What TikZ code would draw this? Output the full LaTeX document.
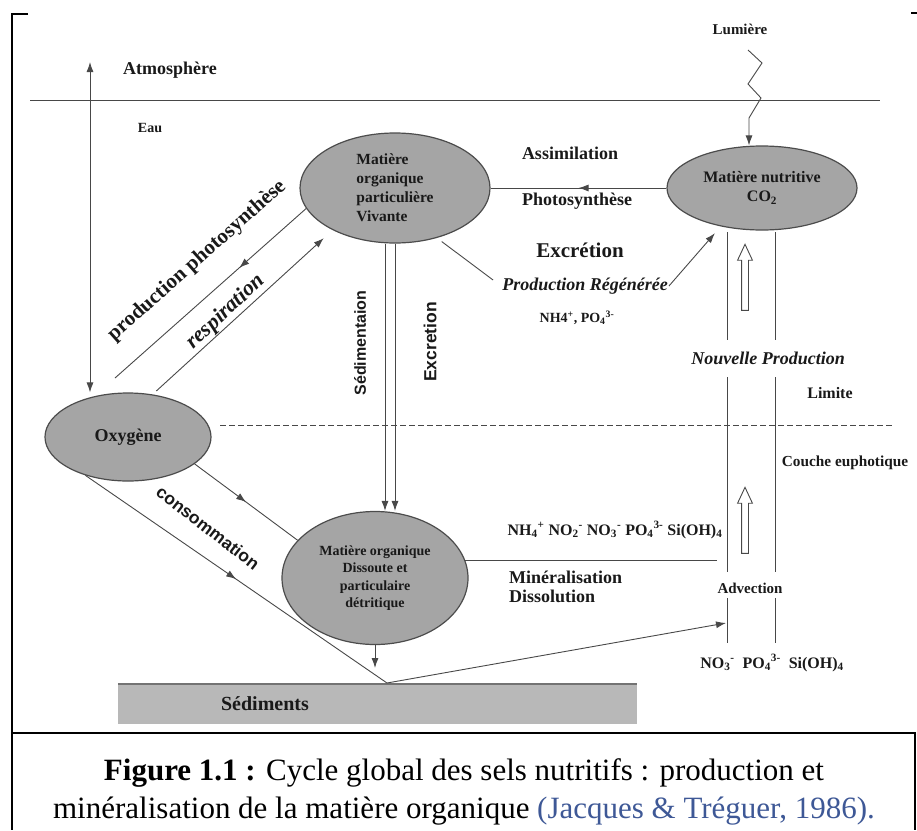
\documentclass[tikz,border=0pt]{standalone}
\usepackage{fontspec}
\setmainfont{Liberation Serif}
\setsansfont{Liberation Sans}
\usepackage{xcolor}
\usetikzlibrary{
    positioning,
    arrows.meta,
    shapes.geometric,
    shapes.arrows,
    decorations.markings,
}
\definecolor{citeblue}{RGB}{62,88,150}
\definecolor{poolgray}{RGB}{165,165,165}
\definecolor{linegray}{RGB}{72,72,72}
\newcommand{\sz}[2]{\fontsize{#1}{#2}\selectfont}
\tikzset{
    % Pool styles
    pool/.style={ellipse, draw=black!70, line width=1.2pt, fill=poolgray,
                 inner sep=0pt, align=center, text=black!90},
    sed bar/.style={rectangle, fill=black!28, draw=none, inner sep=0pt},
    % Text styles
    lbl/.style={inner sep=1pt, text=black!90, font=\bfseries\sz{16}{19}},
    ilbl/.style={lbl, font=\bfseries\itshape\sz{18}{20}},
    slbl/.style={lbl, font=\sffamily\bfseries\sz{16}{19}},
    % Line styles
    frame/.style={line width=2pt, black},
    flow/.style={color=linegray, line width=0.9pt},
    arrow/.style={flow, -{Latex[length=10pt, width=7pt]}},
    both arrow/.style={flow, {Latex[length=10pt, width=7pt]}-{Latex[length=10pt, width=7pt]}},
    mid arrow/.style={flow, postaction={decorate},
                      decoration={markings, mark=at position #1 with {\arrow{Latex[length=10pt, width=7pt]}}}},
    mid arrow/.default=0.5,
    hollow/.style={single arrow, draw=linegray, line width=0.9pt, fill=white, rotate=90,
                   inner xsep=0pt, inner ysep=3pt, single arrow head extend=4pt,
                   single arrow tip angle=50, minimum height=66pt, minimum width=14pt},
}

\begin{document}
\begin{tikzpicture}[x=1pt, y=-1pt]
    \useasboundingbox (0,0) rectangle (917,830);

    % Frame
    \draw[frame] (28,14) -- (12,14) -- (12,830);
    \draw[frame] (911,13) -- (917,13);
    \draw[frame] (12,733) -- (915,733) -- (915,830);

    % Surface and limit
    \draw[flow] (30,100) -- (880,100);
    \draw[flow, dash pattern=on 6pt off 3pt] (220,425) -- (893,425);

    % Layer labels
    \node[lbl, font=\bfseries\sz{18}{20}] (atm) at (170,70) {Atmosphère};
    \node[lbl, font=\bfseries\sz{14}{16}] (eau) at (150,128) {Eau};
    \node[lbl, font=\bfseries\sz{15}{17}] (lum) at (740,29) {Lumière};
    \node[lbl] (limite) at (830,393) {Limite};
    \node[lbl, font=\bfseries\sz{15.3}{18}] (couche) at (845,463) {Couche euphotique};

    % Pools
    \node[pool, minimum width=190pt, minimum height=110pt, align=left,
          font=\bfseries\sz{15.5}{19}] (mopv) at (395,188)
          {Matière\\organique\\particulière\\Vivante};
    \node[pool, minimum width=190pt, minimum height=84pt,
          font=\bfseries\sz{16}{19}] (co2) at (762,188)
          {Matière nutritive\\CO\textsubscript{2}};
    \node[pool, minimum width=166pt, minimum height=88pt,
          font=\bfseries\sz{18}{20}] (oxy) at (128,437) {Oxygène};
    \node[pool, minimum width=186pt, minimum height=133pt,
          font=\bfseries\sz{14}{17.5}] (modp) at (375,578)
          {Matière organique\\Dissoute et\\particulaire\\détritique};
    \node[sed bar, minimum width=519pt, minimum height=40pt] (sed) at (377.5,704) {};
    \draw[line width=1.5pt, black!55] (sed.north west) -- (sed.north east);
    \node[lbl, font=\bfseries\sz{20}{22}] (sedtxt) at (265,704) {Sédiments};

    % Assimilation
    \draw[mid arrow] (co2.west) -- (mopv.east);
    \node[lbl, font=\bfseries\sz{18}{20}] (assim) at (570,153) {Assimilation};
    \node[lbl, font=\bfseries\sz{18}{20}] (photo) at (577,201) {Photosynthèse};

    % Excretion and regenerated production
    \node[lbl, font=\bfseries\sz{21}{23}] (excr) at (580,250) {Excrétion};
    \node[ilbl] (preg) at (585,286) {Production Régénérée};
    \node[lbl, font=\bfseries\sz{14}{16}] (nh4) at (577,318)
          {NH4\textsuperscript{+}, PO\textsubscript{4}\textsuperscript{3-}};
    \draw[flow, shorten <=6pt, shorten >=10pt] (mopv.-50) -- (preg.west);
    \draw[arrow, shorten >=9pt] (preg.east) -- (co2.223);

    % Light
    \coordinate (zz0) at (748,50);
    \coordinate (zz) at (749,128);
    \draw[arrow] (zz0) -- (762,63) -- (748,84) -- (761,98) -- (749,118) -- (zz) -- (zz |- co2.north);

    % Atmosphere exchange
    \coordinate (atmtop) at (90,62);
    \draw[both arrow] (atmtop) -- (atmtop |- oxy.north);

    % Photosynthesis and respiration
    \coordinate (ppend) at (115,378);
    \draw[mid arrow=0.35] (mopv.193) -- (ppend);
    \draw[arrow, shorten <=5pt, shorten >=12pt] (oxy.60) -- (mopv.214);
    \node[lbl, rotate=41.7, font=\bfseries\sz{21}{23}] (pphoto) at (197,261) {production photosynthèse};
    \node[ilbl, rotate=43, font=\bfseries\itshape\sz{22}{24}] (resp) at (226,312) {respiration};

    % Sedimentation
    \draw[arrow] ([xshift=-10pt]mopv.south) -- ([xshift=-10pt]mopv.south |- modp.north);
    \draw[arrow] (mopv.south) -- (mopv.south |- modp.north);
    \node[slbl, rotate=90] (sedim) at (360,343) {Sédimentaion};
    \node[slbl, rotate=90, font=\sffamily\bfseries\sz{17.5}{19}] (excret) at (430,342) {Excretion};

    % Consumption
    \coordinate (sedpt) at (387,683);
    \coordinate (modpdrop) at (375,668);
    \coordinate (advin) at (726,623);
    \draw[mid arrow] (oxy.-22) -- (modp.154);
    \draw[mid arrow] (oxy.222) -- (sedpt);
    \draw[arrow] (sedpt) -- (advin);
    \draw[arrow] (modp.south) -- (modpdrop);
    \node[slbl, rotate=-37.6, font=\sffamily\bfseries\sz{17.5}{19}] (conso) at (208,528) {consommation};

    % Mineralisation
    \coordinate (minend) at (717,560);
    \draw[flow] (modp.11) -- (modp.11 -| minend);
    \node[lbl] (ions) at (615,530)
          {NH\textsubscript{4}\textsuperscript{+} NO\textsubscript{2}\textsuperscript{-} NO\textsubscript{3}\textsuperscript{-} PO\textsubscript{4}\textsuperscript{3-} Si(OH)\textsubscript{4}};
    \node[lbl, font=\bfseries\sz{18}{20}, anchor=west] (mineral) at (508,577) {Minéralisation};
    \node[lbl, font=\bfseries\sz{18}{20}, below=4pt of mineral.south west, anchor=north west] (dissol) {Dissolution};

    % New production channel
    \foreach \cx in {727,775} {
        \draw[flow] (\cx,232) -- (\cx,340) (\cx,377) -- (\cx,572) (\cx,598) -- (\cx,643);
    }
    \node[hollow] (up1) at (745,281) {};
    \node[hollow] (up2) at (745,524) {};
    \node[ilbl] (npro) at (768,358) {Nouvelle Production};
    \node[lbl, font=\bfseries\sz{15}{17}] (adv) at (750,588) {Advection};
    \node[lbl] (ions2) at (772,663)
          {NO\textsubscript{3}\textsuperscript{-}\ \ PO\textsubscript{4}\textsuperscript{3-}\ \ Si(OH)\textsubscript{4}};

    % Caption
    \node[align=center, inner sep=0pt, font=\sz{31}{38}] (cap) at (464,792)
          {\textbf{Figure 1.1 :} Cycle global des sels nutritifs : production et\\
           minéralisation de la matière organique \textcolor{citeblue}{(Jacques \& Tréguer, 1986).}};
\end{tikzpicture}
\end{document}
